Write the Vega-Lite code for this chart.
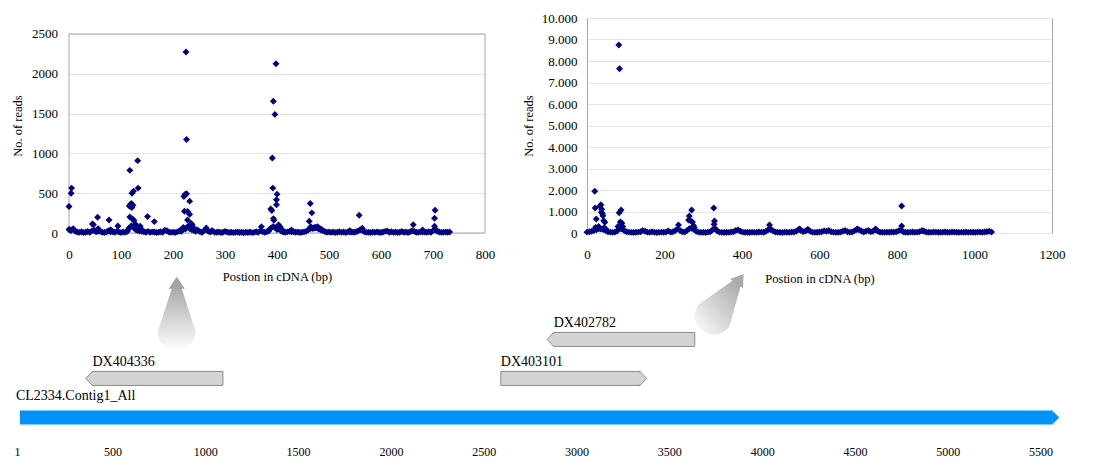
{
"$schema":"https://vega.github.io/schema/vega-lite/v6.json",
"padding":{"left":11,"top":11,"right":0,"bottom":0},
"background":"white",
"config":{"view":{"stroke":null},"font":"Liberation Serif",
"axis":{"labelFont":"Liberation Serif","labelFontSize":13,"labelColor":"#000000","titleFont":"Liberation Serif","titleFontSize":12.5,"titleFontWeight":"normal","titleColor":"#000000","ticks":false,"domain":false,"gridColor":"#e3e3e3","gridWidth":1,"labelFlush":false,"labelOverlap":false}},
"datasets":{
"left":[
{"pos":0,"reads":333},{"pos":1,"reads":40},{"pos":4,"reads":500},{"pos":5,"reads":564},{"pos":8,"reads":55},
{"pos":45,"reads":113},{"pos":47,"reads":105},{"pos":55,"reads":197},{"pos":56,"reads":55},{"pos":77,"reads":164},{"pos":80,"reads":40},{"pos":94,"reads":88},
{"pos":115,"reads":60},{"pos":116,"reads":340},{"pos":117,"reads":787},{"pos":117,"reads":202},{"pos":118,"reads":360},{"pos":119,"reads":358},{"pos":119,"reads":337},{"pos":120,"reads":370},{"pos":121,"reads":500},{"pos":121,"reads":320},{"pos":122,"reads":177},{"pos":123,"reads":350},{"pos":124,"reads":526},{"pos":125,"reads":156},{"pos":126,"reads":88},{"pos":127,"reads":60},{"pos":128,"reads":110},{"pos":130,"reads":45},{"pos":132,"reads":909},{"pos":133,"reads":564},{"pos":137,"reads":84},{"pos":140,"reads":40},{"pos":151,"reads":206},{"pos":164,"reads":143},
{"pos":216,"reads":40},{"pos":218,"reads":55},{"pos":220,"reads":70},{"pos":221,"reads":459},{"pos":222,"reads":274},{"pos":223,"reads":484},{"pos":225,"reads":2273},{"pos":226,"reads":1175},{"pos":226,"reads":493},{"pos":228,"reads":270},{"pos":228,"reads":164},{"pos":230,"reads":80},{"pos":232,"reads":400},{"pos":232,"reads":236},{"pos":235,"reads":120},{"pos":237,"reads":101},{"pos":240,"reads":60},{"pos":245,"reads":40},{"pos":264,"reads":63},{"pos":275,"reads":30},
{"pos":370,"reads":80},{"pos":385,"reads":40},{"pos":388,"reads":303},{"pos":390,"reads":282},{"pos":391,"reads":943},{"pos":392,"reads":564},{"pos":393,"reads":1655},{"pos":393,"reads":181},{"pos":394,"reads":160},{"pos":396,"reads":1490},{"pos":398,"reads":2126},{"pos":399,"reads":417},{"pos":399,"reads":354},{"pos":400,"reads":488},{"pos":400,"reads":60},{"pos":403,"reads":101},{"pos":406,"reads":80},{"pos":410,"reads":40},{"pos":428,"reads":38},
{"pos":462,"reads":147},{"pos":464,"reads":370},{"pos":465,"reads":80},{"pos":467,"reads":253},{"pos":470,"reads":60},{"pos":474,"reads":70},{"pos":478,"reads":80},{"pos":482,"reads":60},{"pos":486,"reads":45},
{"pos":540,"reads":30},{"pos":558,"reads":223},{"pos":564,"reads":59},{"pos":662,"reads":105},{"pos":680,"reads":38},{"pos":703,"reads":185},{"pos":703,"reads":84},{"pos":704,"reads":286},{"pos":706,"reads":40},
{"pos":0,"reads":45},{"pos":4,"reads":30},{"pos":12,"reads":20},{"pos":16,"reads":12},{"pos":20,"reads":8},{"pos":24,"reads":15},{"pos":28,"reads":6},{"pos":32,"reads":10},{"pos":36,"reads":18},{"pos":40,"reads":9},{"pos":44,"reads":25},{"pos":48,"reads":35},{"pos":52,"reads":14},{"pos":56,"reads":22},{"pos":60,"reads":22},{"pos":64,"reads":10},{"pos":68,"reads":7},{"pos":72,"reads":12},{"pos":76,"reads":30},{"pos":80,"reads":16},{"pos":84,"reads":16},{"pos":88,"reads":9},{"pos":92,"reads":20},{"pos":96,"reads":11},{"pos":100,"reads":6},{"pos":104,"reads":13},{"pos":108,"reads":8},{"pos":112,"reads":18},{"pos":116,"reads":60},{"pos":120,"reads":90},{"pos":124,"reads":70},{"pos":128,"reads":45},{"pos":132,"reads":30},{"pos":136,"reads":25},{"pos":140,"reads":20},{"pos":144,"reads":15},{"pos":148,"reads":10},{"pos":152,"reads":20},{"pos":156,"reads":8},{"pos":160,"reads":14},{"pos":164,"reads":12},{"pos":168,"reads":6},{"pos":172,"reads":10},{"pos":176,"reads":15},{"pos":180,"reads":9},{"pos":184,"reads":35},{"pos":188,"reads":28},{"pos":192,"reads":12},{"pos":196,"reads":8},{"pos":200,"reads":11},{"pos":204,"reads":7},{"pos":208,"reads":14},{"pos":212,"reads":25},{"pos":216,"reads":20},{"pos":220,"reads":60},{"pos":224,"reads":50},{"pos":228,"reads":80},{"pos":232,"reads":55},{"pos":236,"reads":45},{"pos":240,"reads":30},{"pos":244,"reads":22},{"pos":248,"reads":35},{"pos":252,"reads":15},{"pos":256,"reads":10},{"pos":260,"reads":30},{"pos":264,"reads":45},{"pos":268,"reads":20},{"pos":272,"reads":12},{"pos":276,"reads":25},{"pos":280,"reads":8},{"pos":284,"reads":10},{"pos":288,"reads":14},{"pos":292,"reads":6},{"pos":296,"reads":9},{"pos":300,"reads":20},{"pos":304,"reads":12},{"pos":308,"reads":7},{"pos":312,"reads":10},{"pos":316,"reads":5},{"pos":320,"reads":8},{"pos":324,"reads":12},{"pos":328,"reads":6},{"pos":332,"reads":9},{"pos":336,"reads":4},{"pos":340,"reads":10},{"pos":344,"reads":7},{"pos":348,"reads":12},{"pos":352,"reads":5},{"pos":356,"reads":8},{"pos":360,"reads":15},{"pos":364,"reads":10},{"pos":368,"reads":30},{"pos":372,"reads":18},{"pos":376,"reads":9},{"pos":380,"reads":14},{"pos":384,"reads":25},{"pos":388,"reads":60},{"pos":392,"reads":80},{"pos":396,"reads":70},{"pos":400,"reads":45},{"pos":404,"reads":50},{"pos":408,"reads":25},{"pos":412,"reads":12},{"pos":416,"reads":8},{"pos":420,"reads":14},{"pos":424,"reads":20},{"pos":428,"reads":15},{"pos":432,"reads":15},{"pos":436,"reads":9},{"pos":440,"reads":12},{"pos":444,"reads":7},{"pos":448,"reads":10},{"pos":452,"reads":14},{"pos":456,"reads":20},{"pos":460,"reads":40},{"pos":464,"reads":55},{"pos":468,"reads":60},{"pos":472,"reads":70},{"pos":476,"reads":65},{"pos":480,"reads":50},{"pos":484,"reads":40},{"pos":488,"reads":30},{"pos":492,"reads":18},{"pos":496,"reads":10},{"pos":500,"reads":14},{"pos":504,"reads":8},{"pos":508,"reads":12},{"pos":512,"reads":6},{"pos":516,"reads":10},{"pos":520,"reads":15},{"pos":524,"reads":8},{"pos":528,"reads":12},{"pos":532,"reads":7},{"pos":536,"reads":14},{"pos":540,"reads":12},{"pos":544,"reads":12},{"pos":548,"reads":9},{"pos":552,"reads":15},{"pos":556,"reads":25},{"pos":560,"reads":40},{"pos":564,"reads":35},{"pos":568,"reads":15},{"pos":572,"reads":8},{"pos":576,"reads":10},{"pos":580,"reads":6},{"pos":584,"reads":12},{"pos":588,"reads":8},{"pos":592,"reads":14},{"pos":596,"reads":10},{"pos":600,"reads":7},{"pos":604,"reads":12},{"pos":608,"reads":20},{"pos":612,"reads":25},{"pos":616,"reads":10},{"pos":620,"reads":15},{"pos":624,"reads":8},{"pos":628,"reads":12},{"pos":632,"reads":6},{"pos":636,"reads":10},{"pos":640,"reads":18},{"pos":644,"reads":9},{"pos":648,"reads":12},{"pos":652,"reads":7},{"pos":656,"reads":15},{"pos":660,"reads":30},{"pos":664,"reads":20},{"pos":668,"reads":10},{"pos":672,"reads":8},{"pos":676,"reads":14},{"pos":680,"reads":12},{"pos":684,"reads":12},{"pos":688,"reads":9},{"pos":692,"reads":15},{"pos":696,"reads":10},{"pos":700,"reads":30},{"pos":704,"reads":45},{"pos":708,"reads":20},{"pos":712,"reads":12},{"pos":716,"reads":8},{"pos":720,"reads":10},{"pos":724,"reads":14},{"pos":728,"reads":9},{"pos":732,"reads":12}
],
"right":[
{"pos":20,"reads":1938},{"pos":21,"reads":1163},{"pos":22,"reads":263},{"pos":24,"reads":651},{"pos":26,"reads":200},{"pos":30,"reads":300},{"pos":33,"reads":1250},{"pos":36,"reads":1318},{"pos":37,"reads":961},{"pos":38,"reads":1100},{"pos":40,"reads":900},{"pos":41,"reads":806},{"pos":43,"reads":574},{"pos":44,"reads":250},{"pos":46,"reads":496},{"pos":48,"reads":200},
{"pos":80,"reads":300},{"pos":82,"reads":8742},{"pos":84,"reads":7642},{"pos":83,"reads":946},{"pos":86,"reads":512},{"pos":88,"reads":1070},{"pos":90,"reads":450},{"pos":92,"reads":300},
{"pos":236,"reads":371},{"pos":262,"reads":600},{"pos":264,"reads":790},{"pos":267,"reads":574},{"pos":270,"reads":1070},{"pos":272,"reads":512},{"pos":275,"reads":341},{"pos":277,"reads":250},
{"pos":327,"reads":1163},{"pos":328,"reads":403},{"pos":329,"reads":558},{"pos":331,"reads":200},{"pos":471,"reads":372},{"pos":474,"reads":186},{"pos":549,"reads":186},{"pos":570,"reads":170},{"pos":698,"reads":186},{"pos":745,"reads":186},{"pos":812,"reads":1256},{"pos":812,"reads":326},{"pos":867,"reads":108},
{"pos":0,"reads":40},{"pos":6,"reads":60},{"pos":12,"reads":80},{"pos":18,"reads":120},{"pos":24,"reads":150},{"pos":30,"reads":200},{"pos":36,"reads":180},{"pos":42,"reads":160},{"pos":48,"reads":120},{"pos":54,"reads":60},{"pos":60,"reads":40},{"pos":66,"reads":30},{"pos":72,"reads":50},{"pos":78,"reads":90},{"pos":84,"reads":200},{"pos":90,"reads":180},{"pos":96,"reads":120},{"pos":102,"reads":60},{"pos":108,"reads":40},{"pos":114,"reads":30},{"pos":120,"reads":25},{"pos":126,"reads":35},{"pos":132,"reads":40},{"pos":138,"reads":60},{"pos":144,"reads":120},{"pos":150,"reads":80},{"pos":156,"reads":40},{"pos":162,"reads":30},{"pos":168,"reads":60},{"pos":174,"reads":35},{"pos":180,"reads":25},{"pos":186,"reads":30},{"pos":192,"reads":40},{"pos":198,"reads":35},{"pos":204,"reads":50},{"pos":210,"reads":100},{"pos":216,"reads":40},{"pos":222,"reads":60},{"pos":228,"reads":120},{"pos":234,"reads":180},{"pos":240,"reads":120},{"pos":246,"reads":60},{"pos":252,"reads":40},{"pos":258,"reads":120},{"pos":264,"reads":200},{"pos":270,"reads":220},{"pos":276,"reads":160},{"pos":282,"reads":80},{"pos":288,"reads":40},{"pos":294,"reads":30},{"pos":300,"reads":35},{"pos":306,"reads":25},{"pos":312,"reads":40},{"pos":318,"reads":60},{"pos":324,"reads":150},{"pos":330,"reads":200},{"pos":336,"reads":90},{"pos":342,"reads":40},{"pos":348,"reads":30},{"pos":354,"reads":25},{"pos":360,"reads":35},{"pos":366,"reads":30},{"pos":372,"reads":45},{"pos":378,"reads":60},{"pos":384,"reads":120},{"pos":390,"reads":140},{"pos":396,"reads":80},{"pos":402,"reads":40},{"pos":408,"reads":30},{"pos":414,"reads":35},{"pos":420,"reads":25},{"pos":426,"reads":40},{"pos":432,"reads":30},{"pos":438,"reads":35},{"pos":444,"reads":50},{"pos":450,"reads":40},{"pos":456,"reads":35},{"pos":462,"reads":80},{"pos":468,"reads":160},{"pos":474,"reads":150},{"pos":480,"reads":100},{"pos":486,"reads":50},{"pos":492,"reads":35},{"pos":498,"reads":30},{"pos":504,"reads":25},{"pos":510,"reads":40},{"pos":516,"reads":35},{"pos":522,"reads":30},{"pos":528,"reads":45},{"pos":534,"reads":50},{"pos":540,"reads":80},{"pos":546,"reads":160},{"pos":552,"reads":120},{"pos":558,"reads":60},{"pos":564,"reads":90},{"pos":570,"reads":150},{"pos":576,"reads":80},{"pos":582,"reads":40},{"pos":588,"reads":30},{"pos":594,"reads":35},{"pos":600,"reads":45},{"pos":606,"reads":60},{"pos":612,"reads":100},{"pos":618,"reads":80},{"pos":624,"reads":120},{"pos":630,"reads":60},{"pos":636,"reads":40},{"pos":642,"reads":30},{"pos":648,"reads":35},{"pos":654,"reads":40},{"pos":660,"reads":80},{"pos":666,"reads":120},{"pos":672,"reads":60},{"pos":678,"reads":40},{"pos":684,"reads":50},{"pos":690,"reads":100},{"pos":696,"reads":160},{"pos":702,"reads":150},{"pos":708,"reads":90},{"pos":714,"reads":50},{"pos":720,"reads":80},{"pos":726,"reads":120},{"pos":732,"reads":60},{"pos":738,"reads":80},{"pos":744,"reads":150},{"pos":750,"reads":90},{"pos":756,"reads":40},{"pos":762,"reads":35},{"pos":768,"reads":30},{"pos":774,"reads":40},{"pos":780,"reads":35},{"pos":786,"reads":45},{"pos":792,"reads":40},{"pos":798,"reads":60},{"pos":804,"reads":100},{"pos":810,"reads":140},{"pos":816,"reads":60},{"pos":822,"reads":35},{"pos":828,"reads":30},{"pos":834,"reads":40},{"pos":840,"reads":45},{"pos":846,"reads":35},{"pos":852,"reads":40},{"pos":858,"reads":60},{"pos":864,"reads":110},{"pos":870,"reads":80},{"pos":876,"reads":40},{"pos":882,"reads":35},{"pos":888,"reads":30},{"pos":894,"reads":45},{"pos":900,"reads":40},{"pos":906,"reads":35},{"pos":912,"reads":30},{"pos":918,"reads":40},{"pos":924,"reads":50},{"pos":930,"reads":35},{"pos":936,"reads":30},{"pos":942,"reads":45},{"pos":948,"reads":40},{"pos":954,"reads":35},{"pos":960,"reads":30},{"pos":966,"reads":40},{"pos":972,"reads":35},{"pos":978,"reads":45},{"pos":984,"reads":30},{"pos":990,"reads":40},{"pos":996,"reads":35},{"pos":1002,"reads":30},{"pos":1008,"reads":50},{"pos":1014,"reads":40},{"pos":1020,"reads":35},{"pos":1026,"reads":45},{"pos":1032,"reads":60},{"pos":1038,"reads":80},{"pos":1044,"reads":50}
],
"genes":[
{"name":"CL2334.Contig1_All","kind":"contig","start":1,"end":5565,"strand":"+","track":0},
{"name":"DX404336","kind":"EST","start":392,"end":1095,"strand":"-","track":1},
{"name":"DX403101","kind":"EST","start":2592,"end":3342,"strand":"+","track":1},
{"name":"DX402782","kind":"EST","start":2877,"end":3637,"strand":"-","track":2}
],
"beams":[
{"to":"left chart","end":"base","pos":846,"track":2.2},
{"to":"left chart","end":"head","pos":846,"track":3.3},
{"to":"right chart","end":"base","pos":3740,"track":2.61},
{"to":"right chart","end":"head","pos":3862,"track":3.43}
]
},
"bounds":"flush",
"spacing":254,
"vconcat":[
{"bounds":"flush","spacing":102,"hconcat":[
{"width":416,"height":215,
"layer":[
{"data":{"values":[{"x0":0,"x1":800,"y0":0,"y1":2500}]},"mark":{"type":"rect","filled":false,"color":"#a6a6a6","strokeWidth":1},
"encoding":{"x":{"field":"x0","type":"quantitative","scale":{"domain":[0,800],"nice":false,"zero":false},"axis":{"values":[0,100,200,300,400,500,600,700,800],"title":"Postion in cDNA (bp)","grid":false,"labelPadding":15,"titlePadding":9,"format":"d"}},"x2":{"field":"x1"},"y":{"field":"y0","type":"quantitative","scale":{"domain":[0,2701],"nice":false},"axis":{"values":[0,500,1000,1500,2000,2500],"title":"No. of reads","grid":true,"labelPadding":11.6,"titlePadding":7,"format":"d"}},"y2":{"field":"y1"}}},
{"data":{"name":"left"},"mark":{"type":"point","shape":"diamond","filled":true,"size":48,"color":"#000080","opacity":1},
"encoding":{
"x":{"field":"pos","type":"quantitative","scale":{"domain":[0,800],"nice":false,"zero":false},"axis":{"values":[0,100,200,300,400,500,600,700,800],"title":"Postion in cDNA (bp)","grid":false,"labelPadding":15,"titlePadding":9,"format":"d"}},
"y":{"field":"reads","type":"quantitative","scale":{"domain":[0,2701],"nice":false},"axis":{"values":[0,500,1000,1500,2000,2500],"title":"No. of reads","grid":true,"labelPadding":11.6,"titlePadding":7,"format":"d"}}}}
]},
{"width":465,"height":215,"view":{"stroke":"#a6a6a6"},
"data":{"name":"right"},
"mark":{"type":"point","shape":"diamond","filled":true,"size":48,"color":"#000080","opacity":1},
"encoding":{
"x":{"field":"pos","type":"quantitative","scale":{"domain":[0,1200],"nice":false,"zero":false},"axis":{"values":[0,200,400,600,800,1000,1200],"title":"Postion in cDNA (bp)","grid":false,"labelPadding":15.5,"titlePadding":11,"format":"d"}},
"y":{"field":"reads","type":"quantitative","scale":{"domain":[0,10000],"nice":false},"axis":{"values":[0,1000,2000,3000,4000,5000,6000,7000,8000,9000,10000],"title":"No. of reads","grid":true,"labelPadding":10,"titlePadding":6,"labelExpr":"replace(format(datum.value, ','), ',', '.')"}}}}
]},
{"width":1023,"height":170,
"data":{"name":"genes"},
"encoding":{
"x":{"field":"start","type":"quantitative","scale":{"domain":[1,5780],"range":[-49.1,1023.5],"nice":false,"zero":false},"axis":{"values":[1,500,1000,1500,2000,2500,3000,3500,4000,4500,5000,5500],"title":null,"grid":false,"labelFontSize":12,"labelPadding":4,"format":"d","labelAlign":{"condition":{"test":"datum.value == 1","value":"right"},"value":"center"}}},
"y":{"field":"track","type":"quantitative","scale":{"domain":[-0.5,3.6],"nice":false,"zero":false},"axis":null}},
"layer":[
{"data":{"name":"beams"},"transform":[{"filter":"datum.to == 'left chart'"}],
"mark":{"type":"trail","strokeWidth":0,"fill":{"gradient":"linear","x1":0,"y1":0,"x2":0,"y2":1,"stops":[{"offset":0,"color":"#a4a4a4"},{"offset":1,"color":"#ffffff"}]}},
"encoding":{"x":{"field":"pos","type":"quantitative","axis":{"values":[1,500,1000,1500,2000,2500,3000,3500,4000,4500,5000,5500],"title":null,"grid":false,"labelFontSize":12,"labelPadding":4,"format":"d","labelAlign":{"condition":{"test":"datum.value == 1","value":"right"},"value":"center"}}},"size":{"field":"end","type":"ordinal","scale":{"domain":["base","head"],"range":[38,10]},"legend":null},"order":{"field":"track","type":"quantitative"}}},
{"data":{"name":"beams"},"transform":[{"filter":"datum.to == 'right chart'"}],
"mark":{"type":"trail","strokeWidth":0,"fill":{"gradient":"linear","x1":1,"y1":0,"x2":0,"y2":1,"stops":[{"offset":0,"color":"#a4a4a4"},{"offset":1,"color":"#ffffff"}]}},
"encoding":{"x":{"field":"pos","type":"quantitative","axis":{"values":[1,500,1000,1500,2000,2500,3000,3500,4000,4500,5000,5500],"title":null,"grid":false,"labelFontSize":12,"labelPadding":4,"format":"d","labelAlign":{"condition":{"test":"datum.value == 1","value":"right"},"value":"center"}}},"size":{"field":"end","type":"ordinal","scale":{"domain":["base","head"],"range":[38,10]},"legend":null},"order":{"field":"track","type":"quantitative"}}},
{"data":{"name":"beams"},"transform":[{"filter":"datum.to == 'left chart' && datum.end == 'head'"}],
"mark":{"type":"point","shape":"M-1,0L0,-1.5L1,0Z","size":256,"filled":true,"color":"#a3a3a3","opacity":1},
"encoding":{"x":{"field":"pos","type":"quantitative","axis":{"values":[1,500,1000,1500,2000,2500,3000,3500,4000,4500,5000,5500],"title":null,"grid":false,"labelFontSize":12,"labelPadding":4,"format":"d","labelAlign":{"condition":{"test":"datum.value == 1","value":"right"},"value":"center"}}}}},
{"data":{"name":"beams"},"transform":[{"filter":"datum.to == 'right chart' && datum.end == 'head'"}],
"mark":{"type":"point","shape":"M-1,0L0,-1.5L1,0Z","size":256,"filled":true,"color":"#ababab","opacity":1,"angle":36},
"encoding":{"x":{"field":"pos","type":"quantitative","axis":{"values":[1,500,1000,1500,2000,2500,3000,3500,4000,4500,5000,5500],"title":null,"grid":false,"labelFontSize":12,"labelPadding":4,"format":"d","labelAlign":{"condition":{"test":"datum.value == 1","value":"right"},"value":"center"}}}}},
{"transform":[{"filter":"datum.kind == 'EST'"}],
"mark":{"type":"bar","size":14,"fill":"#d4d4d4","stroke":"#8c8c8c","strokeWidth":1},
"encoding":{"x2":{"field":"end"}}},
{"transform":[{"filter":"datum.kind == 'EST' && datum.strand == '+'"}],
"mark":{"type":"point","shape":"M0,-1L0.95,0L0,1Z","size":196,"filled":true,"fill":"#d4d4d4","stroke":"#8c8c8c","strokeWidth":1,"opacity":1},
"encoding":{"x":{"field":"end","type":"quantitative","axis":{"values":[1,500,1000,1500,2000,2500,3000,3500,4000,4500,5000,5500],"title":null,"grid":false,"labelFontSize":12,"labelPadding":4,"format":"d","labelAlign":{"condition":{"test":"datum.value == 1","value":"right"},"value":"center"}}}}},
{"transform":[{"filter":"datum.kind == 'EST' && datum.strand == '-'"}],
"mark":{"type":"point","shape":"M0,-1L-0.95,0L0,1Z","size":196,"filled":true,"fill":"#d4d4d4","stroke":"#8c8c8c","strokeWidth":1,"opacity":1}},
{"transform":[{"filter":"datum.kind == 'EST' && datum.strand == '+'"}],
"mark":{"type":"point","shape":"M-0.3,-0.86L0.05,-0.86L0.7,0L0.05,0.86L-0.3,0.86Z","size":196,"filled":true,"fill":"#d4d4d4","strokeWidth":0,"opacity":1},
"encoding":{"x":{"field":"end","type":"quantitative","axis":{"values":[1,500,1000,1500,2000,2500,3000,3500,4000,4500,5000,5500],"title":null,"grid":false,"labelFontSize":12,"labelPadding":4,"format":"d","labelAlign":{"condition":{"test":"datum.value == 1","value":"right"},"value":"center"}}}}},
{"transform":[{"filter":"datum.kind == 'EST' && datum.strand == '-'"}],
"mark":{"type":"point","shape":"M0.3,-0.86L-0.05,-0.86L-0.7,0L-0.05,0.86L0.3,0.86Z","size":196,"filled":true,"fill":"#d4d4d4","strokeWidth":0,"opacity":1}},
{"transform":[{"filter":"datum.kind == 'contig'"}],
"mark":{"type":"bar","size":14,"fill":"#0092f8"},
"encoding":{"x2":{"field":"end"}}},
{"transform":[{"filter":"datum.kind == 'contig'"}],
"mark":{"type":"point","shape":"M-0.05,-1L0.95,0L-0.05,1Z","size":196,"filled":true,"fill":"#0092f8","strokeWidth":0,"opacity":1},
"encoding":{"x":{"field":"end","type":"quantitative","axis":{"values":[1,500,1000,1500,2000,2500,3000,3500,4000,4500,5000,5500],"title":null,"grid":false,"labelFontSize":12,"labelPadding":4,"format":"d","labelAlign":{"condition":{"test":"datum.value == 1","value":"right"},"value":"center"}}}}},
{"transform":[{"filter":"datum.kind == 'EST'"}],
"mark":{"type":"text","align":"left","baseline":"alphabetic","dy":-12,"font":"Liberation Serif","fontSize":14,"color":"#000000"},
"encoding":{"text":{"field":"name"}}},
{"transform":[{"filter":"datum.kind == 'contig'"}],
"mark":{"type":"text","align":"left","baseline":"alphabetic","dy":-17,"dx":-4,"font":"Liberation Serif","fontSize":14,"color":"#000000"},
"encoding":{"text":{"field":"name"}}}
]}
]
}
